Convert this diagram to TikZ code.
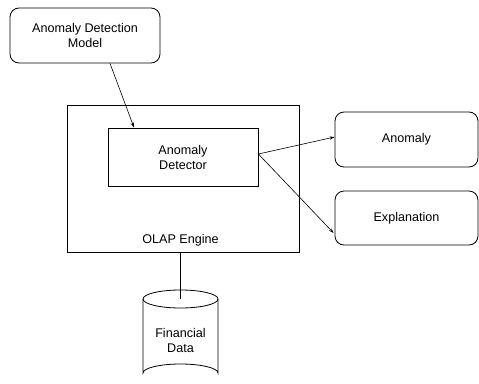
\documentclass[tikz,border=0pt]{standalone}
\usepackage{fontspec}
\setmainfont{Liberation Sans}
\usetikzlibrary{arrows.meta,calc}
\begin{document}
\begin{tikzpicture}[x=1pt,y=-1pt,
  every node/.style={font=\fontsize{12.6}{15}\selectfont, align=center},
  rbox/.style={draw, rounded corners=9pt, line width=0.8pt, inner sep=0pt},
  sbox/.style={draw, line width=0.8pt, inner sep=0pt},
  link/.style={line width=0.6pt},
  arr/.style={link, -{Stealth[length=5pt,width=3.2pt]}}]
\useasboundingbox (0,0) rectangle (479,383);
% external model and outputs
\node[rbox, minimum width=150pt, minimum height=55pt] (model) at (85,35.5) {Anomaly Detection\\Model};
\node[rbox, minimum width=143pt, minimum height=55pt] (anom) at (406.5,139.5) {Anomaly};
\node[rbox, minimum width=143pt, minimum height=54pt] (expl) at (406.5,218) {Explanation};
% OLAP engine with the detector inside
\node[sbox, minimum width=232pt, minimum height=147pt] (olap) at (183,178.5) {};
\node (olaplabel) at (180.5,240) {OLAP Engine};
\node[sbox, minimum width=150pt, minimum height=58pt] (det) at (183,157) {Anomaly\\Detector};
% data store cylinder
\coordinate (dtop) at (180.5,299);
\draw[line width=0.8pt] (dtop) ellipse [x radius=37.5, y radius=9];
\draw[line width=0.8pt] (143,299) -- (143,373) arc[start angle=180, end angle=360, x radius=37.5, y radius=9] -- (218,299);
\node (data) at (180.5,340) {Financial\\Data};
% connectors
\draw[arr] ([xshift=25pt]model.south) -- ([xshift=-49pt]det.north);
\draw[arr] ([yshift=3pt]det.east) -- ([yshift=2.5pt]anom.west);
\draw[arr] ([yshift=3pt]det.east) -- ([xshift=-1pt,yshift=-15pt]expl.west);
\draw[link] (olap.south -| dtop) -- (dtop);
\end{tikzpicture}
\end{document}
